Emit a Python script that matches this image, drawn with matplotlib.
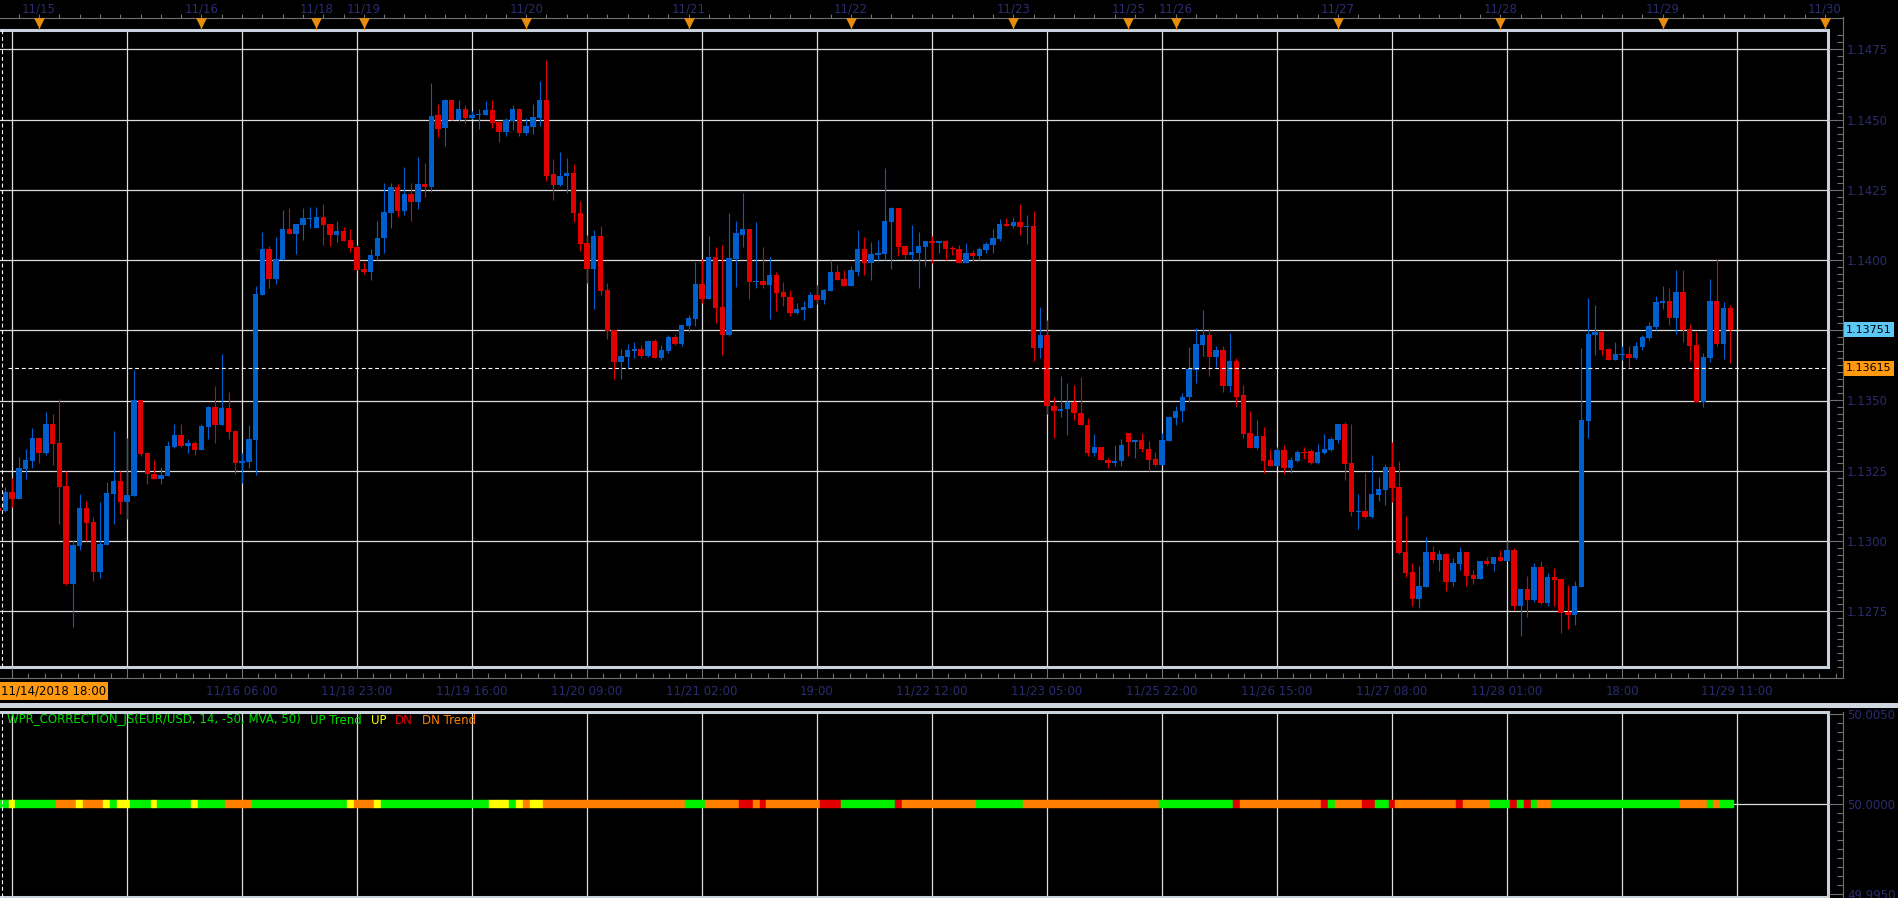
import matplotlib.pyplot as plt
from matplotlib.lines import Line2D
from matplotlib.patches import Rectangle
from matplotlib.transforms import blended_transform_factory
import numpy as np

# EUR/USD hourly bars, 11/14/2018 18:00 .. 11/29 10:00
opens = [
    1.13118, 1.13108, 1.13174, 1.13149, 1.13257, 1.13286, 1.13366, 1.13314, 1.13416, 1.13349,
    1.13195, 1.12845, 1.12983, 1.13117, 1.13067, 1.12891, 1.12987, 1.13168, 1.13213, 1.13139,
    1.13161, 1.13501, 1.13313, 1.13237, 1.13221, 1.13230, 1.13334, 1.13376, 1.13338, 1.13349,
    1.13325, 1.13407, 1.13476, 1.13413, 1.13472, 1.13391, 1.13279, 1.13282, 1.13359, 1.13875,
    1.14038, 1.13933, 1.13999, 1.14109, 1.14093, 1.14125, 1.14146, 1.14114, 1.14153, 1.14128,
    1.14089, 1.14105, 1.14070, 1.14045, 1.13967, 1.13957, 1.14014, 1.14078, 1.14167, 1.14262,
    1.14175, 1.14234, 1.14207, 1.14272, 1.14262, 1.14516, 1.14469, 1.14569, 1.14498, 1.14538,
    1.14505, 1.14515, 1.14517, 1.14534, 1.14491, 1.14456, 1.14494, 1.14538, 1.14452, 1.14473,
    1.14505, 1.14569, 1.14305, 1.14266, 1.14299, 1.14309, 1.14169, 1.14062, 1.13970, 1.14087,
    1.13894, 1.13752, 1.13638, 1.13655, 1.13676, 1.13684, 1.13659, 1.13712, 1.13651, 1.13676,
    1.13727, 1.13701, 1.13766, 1.13791, 1.13915, 1.13863, 1.14012, 1.13834, 1.13734, 1.14005,
    1.14091, 1.14112, 1.13923, 1.13927, 1.13913, 1.13948, 1.13888, 1.13870, 1.13812, 1.13823,
    1.13830, 1.13877, 1.13859, 1.13890, 1.13959, 1.13934, 1.13909, 1.13959, 1.14041, 1.13991,
    1.14019, 1.14023, 1.14137, 1.14186, 1.14050, 1.14019, 1.14026, 1.14048, 1.14068, 1.14060,
    1.14068, 1.14044, 1.14038, 1.13990, 1.14024, 1.14015, 1.14036, 1.14054, 1.14075, 1.14129,
    1.14123, 1.14136, 1.14119, 1.14121, 1.13687, 1.13732, 1.13482, 1.13462, 1.13469, 1.13493,
    1.13457, 1.13414, 1.13312, 1.13336, 1.13289, 1.13276, 1.13283, 1.13386, 1.13351, 1.13361,
    1.13329, 1.13293, 1.13271, 1.13357, 1.13439, 1.13462, 1.13511, 1.13607, 1.13696, 1.13732,
    1.13654, 1.13679, 1.13550, 1.13639, 1.13518, 1.13386, 1.13332, 1.13375, 1.13289, 1.13268,
    1.13325, 1.13261, 1.13286, 1.13318, 1.13320, 1.13278, 1.13314, 1.13324, 1.13359, 1.13416,
    1.13278, 1.13103, 1.13107, 1.13085, 1.13164, 1.13181, 1.13263, 1.13192, 1.12961, 1.12890,
    1.12794, 1.12836, 1.12961, 1.12932, 1.12954, 1.12854, 1.12918, 1.12961, 1.12879, 1.12865,
    1.12929, 1.12918, 1.12943, 1.12929, 1.12968, 1.12769, 1.12829, 1.12790, 1.12907, 1.12779,
    1.12872, 1.12865, 1.12747, 1.12737, 1.12836, 1.13427, 1.13733, 1.13744, 1.13683, 1.13644,
    1.13662, 1.13665, 1.13651, 1.13690, 1.13722, 1.13762, 1.13849, 1.13854, 1.13794, 1.13886,
    1.13754, 1.13698, 1.13495, 1.13651, 1.13854, 1.13701, 1.13829]
highs = [
    1.13121, 1.13191, 1.13224, 1.13300, 1.13326, 1.13401, 1.13370, 1.13458, 1.13451, 1.13504,
    1.13250, 1.13003, 1.13167, 1.13142, 1.13084, 1.13138, 1.13209, 1.13391, 1.13250, 1.13366,
    1.13608, 1.13501, 1.13313, 1.13288, 1.13263, 1.13355, 1.13416, 1.13416, 1.13362, 1.13355,
    1.13416, 1.13480, 1.13551, 1.13664, 1.13529, 1.13391, 1.13313, 1.13412, 1.13907, 1.14099,
    1.14049, 1.14084, 1.14180, 1.14184, 1.14128, 1.14184, 1.14188, 1.14188, 1.14199, 1.14128,
    1.14141, 1.14117, 1.14109, 1.14054, 1.13992, 1.14038, 1.14138, 1.14276, 1.14276, 1.14270,
    1.14330, 1.14276, 1.14366, 1.14345, 1.14629, 1.14557, 1.14573, 1.14569, 1.14569, 1.14552,
    1.14530, 1.14538, 1.14565, 1.14569, 1.14491, 1.14505, 1.14552, 1.14542, 1.14505, 1.14555,
    1.14637, 1.14712, 1.14359, 1.14384, 1.14362, 1.14341, 1.14209, 1.14091, 1.14106, 1.14123,
    1.13919, 1.13752, 1.13684, 1.13701, 1.13709, 1.13698, 1.13716, 1.13720, 1.13698, 1.13734,
    1.13737, 1.13770, 1.13806, 1.13995, 1.14005, 1.14087, 1.14045, 1.14055, 1.14169, 1.14141,
    1.14238, 1.14112, 1.14137, 1.14045, 1.14012, 1.13959, 1.13923, 1.13894, 1.13848, 1.13855,
    1.13888, 1.13913, 1.13898, 1.13999, 1.13984, 1.13963, 1.13980, 1.14108, 1.14081, 1.14066,
    1.14071, 1.14329, 1.14189, 1.14186, 1.14054, 1.14125, 1.14100, 1.14068, 1.14086, 1.14068,
    1.14071, 1.14050, 1.14052, 1.14062, 1.14036, 1.14048, 1.14063, 1.14110, 1.14145, 1.14150,
    1.14154, 1.14200, 1.14161, 1.14175, 1.13832, 1.13786, 1.13511, 1.13589, 1.13561, 1.13557,
    1.13582, 1.13438, 1.13379, 1.13336, 1.13294, 1.13343, 1.13364, 1.13386, 1.13361, 1.13386,
    1.13357, 1.13318, 1.13386, 1.13446, 1.13479, 1.13526, 1.13689, 1.13757, 1.13821, 1.13754,
    1.13693, 1.13693, 1.13739, 1.13650, 1.13557, 1.13464, 1.13432, 1.13407, 1.13329, 1.13336,
    1.13340, 1.13300, 1.13325, 1.13336, 1.13327, 1.13345, 1.13381, 1.13370, 1.13416, 1.13423,
    1.13416, 1.13167, 1.13242, 1.13306, 1.13228, 1.13274, 1.13352, 1.13285, 1.13089, 1.12922,
    1.12911, 1.13014, 1.12982, 1.12968, 1.12957, 1.12940, 1.12979, 1.12961, 1.12897, 1.12929,
    1.12943, 1.12943, 1.12968, 1.13000, 1.12975, 1.12829, 1.12875, 1.12922, 1.12929, 1.12886,
    1.12904, 1.12865, 1.12843, 1.12858, 1.13687, 1.13865, 1.13840, 1.13747, 1.13687, 1.13708,
    1.13694, 1.13694, 1.13708, 1.13733, 1.13779, 1.13872, 1.13907, 1.13900, 1.13964, 1.13964,
    1.13772, 1.13744, 1.13669, 1.13932, 1.14004, 1.13851, 1.13840]
lows = [
    1.13103, 1.13103, 1.13122, 1.13149, 1.13221, 1.13259, 1.13279, 1.13307, 1.13270, 1.13062,
    1.12842, 1.12695, 1.12966, 1.13000, 1.12859, 1.12867, 1.12987, 1.13062, 1.13095, 1.13079,
    1.13161, 1.13303, 1.13204, 1.13221, 1.13204, 1.13230, 1.13332, 1.13334, 1.13314, 1.13307,
    1.13325, 1.13363, 1.13350, 1.13413, 1.13363, 1.13239, 1.13207, 1.13261, 1.13236, 1.13875,
    1.13900, 1.13914, 1.13999, 1.14093, 1.14022, 1.14071, 1.14114, 1.14114, 1.14054, 1.14049,
    1.14064, 1.14068, 1.14029, 1.13964, 1.13950, 1.13929, 1.13999, 1.14025, 1.14114, 1.14154,
    1.14160, 1.14138, 1.14182, 1.14224, 1.14242, 1.14440, 1.14406, 1.14498, 1.14494, 1.14487,
    1.14502, 1.14466, 1.14517, 1.14469, 1.14420, 1.14441, 1.14462, 1.14441, 1.14445, 1.14448,
    1.14477, 1.14280, 1.14213, 1.14263, 1.14238, 1.14137, 1.14034, 1.13917, 1.13827, 1.13877,
    1.13720, 1.13577, 1.13577, 1.13616, 1.13651, 1.13651, 1.13655, 1.13651, 1.13645, 1.13670,
    1.13698, 1.13695, 1.13745, 1.13766, 1.13848, 1.13863, 1.13777, 1.13663, 1.13730, 1.13905,
    1.14045, 1.13863, 1.13902, 1.13902, 1.13791, 1.13819, 1.13838, 1.13802, 1.13808, 1.13787,
    1.13830, 1.13844, 1.13844, 1.13890, 1.13930, 1.13909, 1.13909, 1.13945, 1.13948, 1.13929,
    1.14000, 1.14000, 1.13969, 1.14015, 1.14004, 1.14000, 1.13901, 1.13980, 1.13988, 1.14026,
    1.14000, 1.14017, 1.13990, 1.13988, 1.13998, 1.14000, 1.14026, 1.14026, 1.14067, 1.14123,
    1.14114, 1.14089, 1.14057, 1.13639, 1.13651, 1.13451, 1.13365, 1.13443, 1.13376, 1.13431,
    1.13412, 1.13301, 1.13301, 1.13288, 1.13258, 1.13268, 1.13266, 1.13304, 1.13294, 1.13315,
    1.13250, 1.13266, 1.13271, 1.13357, 1.13414, 1.13425, 1.13493, 1.13561, 1.13657, 1.13589,
    1.13618, 1.13532, 1.13532, 1.13482, 1.13368, 1.13332, 1.13329, 1.13243, 1.13268, 1.13268,
    1.13237, 1.13243, 1.13282, 1.13293, 1.13274, 1.13274, 1.13310, 1.13320, 1.13349, 1.13217,
    1.13089, 1.13043, 1.13082, 1.13082, 1.13142, 1.13128, 1.13140, 1.12954, 1.12872, 1.12769,
    1.12762, 1.12836, 1.12922, 1.12893, 1.12822, 1.12840, 1.12897, 1.12840, 1.12847, 1.12865,
    1.12915, 1.12893, 1.12929, 1.12929, 1.12754, 1.12662, 1.12730, 1.12783, 1.12776, 1.12769,
    1.12769, 1.12673, 1.12687, 1.12701, 1.12836, 1.13367, 1.13662, 1.13662, 1.13644, 1.13644,
    1.13644, 1.13619, 1.13647, 1.13680, 1.13715, 1.13751, 1.13826, 1.13769, 1.13737, 1.13708,
    1.13641, 1.13495, 1.13477, 1.13637, 1.13694, 1.13648, 1.13633]
closes = [
    1.13108, 1.13174, 1.13149, 1.13259, 1.13288, 1.13366, 1.13314, 1.13416, 1.13345, 1.13193,
    1.12845, 1.12986, 1.13117, 1.13064, 1.12891, 1.12989, 1.13170, 1.13213, 1.13139, 1.13163,
    1.13501, 1.13311, 1.13237, 1.13221, 1.13233, 1.13337, 1.13376, 1.13338, 1.13349, 1.13325,
    1.13409, 1.13476, 1.13413, 1.13472, 1.13388, 1.13279, 1.13284, 1.13362, 1.13878, 1.14038,
    1.13933, 1.14003, 1.14109, 1.14093, 1.14128, 1.14149, 1.14149, 1.14153, 1.14125, 1.14089,
    1.14105, 1.14068, 1.14043, 1.13964, 1.13957, 1.14017, 1.14080, 1.14170, 1.14262, 1.14175,
    1.14234, 1.14207, 1.14272, 1.14262, 1.14514, 1.14468, 1.14569, 1.14498, 1.14538, 1.14505,
    1.14517, 1.14519, 1.14534, 1.14487, 1.14456, 1.14498, 1.14538, 1.14452, 1.14477, 1.14509,
    1.14569, 1.14301, 1.14266, 1.14301, 1.14309, 1.14166, 1.14059, 1.13970, 1.14087, 1.13890,
    1.13748, 1.13638, 1.13659, 1.13680, 1.13684, 1.13659, 1.13712, 1.13651, 1.13680, 1.13727,
    1.13701, 1.13770, 1.13794, 1.13915, 1.13863, 1.14012, 1.13830, 1.13734, 1.14009, 1.14095,
    1.14112, 1.13923, 1.13927, 1.13913, 1.13948, 1.13884, 1.13867, 1.13812, 1.13827, 1.13834,
    1.13877, 1.13859, 1.13894, 1.13959, 1.13930, 1.13909, 1.13963, 1.14041, 1.13991, 1.14022,
    1.14024, 1.14139, 1.14186, 1.14046, 1.14019, 1.14029, 1.14050, 1.14068, 1.14060, 1.14068,
    1.14040, 1.14038, 1.13990, 1.14024, 1.14015, 1.14039, 1.14057, 1.14079, 1.14129, 1.14123,
    1.14136, 1.14118, 1.14121, 1.13687, 1.13732, 1.13480, 1.13462, 1.13471, 1.13493, 1.13455,
    1.13412, 1.13312, 1.13336, 1.13288, 1.13276, 1.13286, 1.13343, 1.13351, 1.13361, 1.13326,
    1.13289, 1.13271, 1.13361, 1.13443, 1.13464, 1.13514, 1.13611, 1.13700, 1.13732, 1.13654,
    1.13679, 1.13550, 1.13639, 1.13514, 1.13382, 1.13332, 1.13375, 1.13286, 1.13268, 1.13325,
    1.13261, 1.13289, 1.13318, 1.13314, 1.13278, 1.13317, 1.13327, 1.13363, 1.13416, 1.13274,
    1.13103, 1.13107, 1.13085, 1.13167, 1.13185, 1.13263, 1.13189, 1.12957, 1.12886, 1.12794,
    1.12840, 1.12961, 1.12932, 1.12954, 1.12854, 1.12922, 1.12961, 1.12875, 1.12865, 1.12929,
    1.12918, 1.12943, 1.12929, 1.12968, 1.12769, 1.12829, 1.12790, 1.12907, 1.12779, 1.12872,
    1.12861, 1.12744, 1.12737, 1.12840, 1.13431, 1.13737, 1.13744, 1.13680, 1.13644, 1.13665,
    1.13665, 1.13651, 1.13694, 1.13726, 1.13765, 1.13851, 1.13854, 1.13794, 1.13886, 1.13751,
    1.13694, 1.13495, 1.13655, 1.13854, 1.13701, 1.13829, 1.13751]

# indicator state per bar as runs: G=UP Trend, Y=UP, R=DN, O=DN Trend
trend_runs = [('G', 2), ('Y', 1), ('G', 6), ('O', 3), ('Y', 1), ('O', 3), ('Y', 1), ('G', 1),
              ('Y', 2), ('G', 3), ('Y', 1), ('G', 5), ('Y', 1), ('G', 4), ('O', 4), ('G', 14),
              ('Y', 1), ('O', 3), ('Y', 1), ('G', 16), ('Y', 3), ('G', 1), ('Y', 1), ('O', 1),
              ('Y', 2), ('O', 21), ('G', 3), ('O', 5), ('R', 2), ('O', 1), ('R', 1), ('O', 8),
              ('R', 3), ('G', 8), ('R', 1), ('O', 11), ('G', 7), ('O', 20), ('G', 11), ('R', 1),
              ('O', 12), ('R', 1), ('G', 1), ('O', 4), ('R', 2), ('G', 2), ('R', 1), ('O', 9),
              ('R', 1), ('O', 4), ('G', 3), ('R', 1), ('G', 1), ('R', 1), ('G', 1), ('O', 2),
              ('G', 19), ('O', 4), ('G', 1), ('O', 1), ('G', 2)]

# day starts (bar index) for the top date strip
day_labels = ['11/15', '11/16', '11/18', '11/19', '11/20', '11/21', '11/22',
              '11/23', '11/25', '11/26', '11/27', '11/28', '11/29', '11/30']
day_bars = [6, 30, 47, 54, 78, 102, 126, 150, 167, 174, 198, 222, 246, 270]

# vertical grid every 17 bars
grid_bars = list(range(2, 258, 17))
grid_labels = ['', '', '11/16 06:00', '11/18 23:00', '11/19 16:00', '11/20 09:00',
               '11/21 02:00', '19:00', '11/22 12:00', '11/23 05:00', '11/25 22:00',
               '11/26 15:00', '11/27 08:00', '11/28 01:00', '18:00', '11/29 11:00']

price_ticks = [1.1275, 1.1300, 1.1325, 1.1350, 1.1375, 1.1400, 1.1425, 1.1450, 1.1475]
last_price = 1.13751
cursor_price = 1.13615
cursor_bar = 0.55
cursor_label = '11/14/2018 18:00'
ind_ticks = [49.995, 50.0, 50.005]

# ---------------------------------------------------------------
W, H = 1898, 898
PPB = 115 / 17     # pixels per bar
X0 = -1.5          # pixel x of bar 0
P_TOP, P_BOT = 1.148194, 1.125510
I_TOP, I_BOT = 50.00511, 49.99483
FS = 8.5

NAVY = '#2b2b72'
GRID = '#dcdcdc'
FRAME = '#c9d1dd'
AXIS = '#707070'
UPC = '#005fcc'
DNC = '#e00000'
TRI = '#e88d0b'
STATE_COL = {'G': '#00f000', 'Y': '#ffff00', 'R': '#e00000', 'O': '#ff8000'}

plt.rcParams['font.family'] = ['DejaVu Sans']
fig = plt.figure(figsize=(W / 100, H / 100), dpi=100, facecolor='black')


def box(x0, y0, x1, y1):
    return fig.add_axes([x0 / W, 1 - y1 / H, (x1 - x0) / W, (y1 - y0) / H])


def xlim_px(a, b):
    return ((a - X0) / PPB, (b - X0) / PPB)


def frame(a, sides, lw=2.2):
    for s in a.spines:
        a.spines[s].set_visible(s in sides)
        a.spines[s].set_color(FRAME)
        a.spines[s].set_linewidth(lw)


o = np.array(opens)
h = np.array(highs)
l = np.array(lows)
c = np.array(closes)
idx = np.arange(len(o))
cols = np.where(c >= o, UPC, DNC)

# ---------------- main price panel ----------------
ax = box(0, 30, 1828, 667)
ax.set_facecolor('black')
ax.set_xlim(*xlim_px(0, 1828))
ax.set_ylim(P_BOT, P_TOP)
ax.set_xticks([])
ax.set_yticks([])
frame(ax, ['top', 'right', 'bottom'])

for p in price_ticks:
    ax.axhline(p, color=GRID, lw=0.9, zorder=1)
for g in grid_bars:
    ax.axvline(g, color=GRID, lw=0.9, zorder=1)

ax.vlines(idx, l, h, colors=cols, lw=0.8, zorder=3)
body_lo = np.minimum(o, c)
body_h = np.maximum(np.abs(c - o), 0.00004)
ax.bar(idx, body_h, bottom=body_lo, width=0.8, color=cols, lw=0, zorder=4)

ax.axhline(cursor_price, xmin=8 / 1828, color='white', lw=0.8, ls=(0, (3.5, 2.5)), zorder=5)
ax.axvline(cursor_bar, color='white', lw=0.8, ls=(0, (3.5, 2.5)), zorder=5)

# right price scale (the 1.1375 label sits under the last-price tag)
axr = box(1828, 30, 1843, 667)
axr.set_facecolor('none')
axr.set_ylim(P_BOT, P_TOP)
axr.set_xticks([])
for s in axr.spines:
    axr.spines[s].set_visible(False)
axr.yaxis.tick_right()
axr.set_yticks(price_ticks,
               labels=['' if abs(p - last_price) < 0.0002 else '%.4f' % p for p in price_ticks])
axr.set_yticks(np.arange(1.1255, 1.1482, 0.00025), minor=True)
axr.tick_params(axis='y', which='major', direction='in', length=10, width=0.8,
                color=AXIS, labelcolor=NAVY, labelsize=FS, pad=3)
axr.tick_params(axis='y', which='minor', direction='in', length=4.3, width=0.8, color=AXIS)
tr = blended_transform_factory(axr.transAxes, axr.transData)
axr.text(1 + 3 / 15, last_price, '%.5f' % last_price, transform=tr, ha='left', va='center',
         fontsize=FS - 0.5, color='black', zorder=6,
         bbox=dict(boxstyle='square,pad=0.22', fc='#5cc8f6', ec='none'))
axr.text(1 + 3 / 15, cursor_price, '%.5f' % cursor_price, transform=tr, ha='left',
         va='center', fontsize=FS - 0.5, color='black', zorder=6,
         bbox=dict(boxstyle='square,pad=0.22', fc='#ff9a10', ec='none'))
fig.add_artist(Line2D([1843 / W, 1843 / W], [1 - 17 / H, 1 - 678 / H], color=AXIS, lw=0.8))

# top date strip
axt = box(0, 0, 1843, 30)
axt.set_xlim(*xlim_px(0, 1843))
axt.set_ylim(30, 0)
axt.axis('off')
axt.plot(axt.get_xlim(), [18, 18], color=AXIS, lw=0.8)
axt.vlines(np.arange(0, 271, 3), 14, 18, color=AXIS, lw=0.8)
axt.vlines(day_bars, 22, 30, color=TRI, lw=0.9)
axt.scatter(day_bars, [22.5] * len(day_bars), marker='v', s=60, color=TRI, lw=0, zorder=3)
for b, t in zip(day_bars, day_labels):
    axt.text(b, 9, t, ha='center', va='center', color=NAVY, fontsize=FS)

# bottom time axis
axb = box(0, 667, 1843, 678)
axb.set_facecolor('none')
axb.set_xlim(*xlim_px(0, 1843))
axb.set_yticks([])
for s in axb.spines:
    axb.spines[s].set_visible(s == 'bottom')
axb.spines['bottom'].set_color(AXIS)
axb.spines['bottom'].set_linewidth(0.8)
axb.set_xticks(grid_bars, labels=grid_labels)
axb.set_xticks(np.arange(2, 272, 17 / 7), minor=True)
axb.tick_params(axis='x', which='major', direction='in', length=7.5, width=0.8, color=AXIS,
                labelcolor=NAVY, labelsize=FS, pad=5)
axb.tick_params(axis='x', which='minor', direction='in', length=3.5, width=0.8, color=AXIS)
fig.text(1 / W, 1 - 691 / H, cursor_label, ha='left', va='center', fontsize=FS, color='black',
         bbox=dict(boxstyle='square,pad=0.2', fc='#ff9a10', ec='none'))

# panel separator
fig.add_artist(Rectangle((0, 1 - 708 / H), 1, 5 / H, transform=fig.transFigure,
                         facecolor='#cfd6df', edgecolor='none'))

# ---------------- indicator panel ----------------
ax2 = box(0, 712, 1828, 897)
ax2.set_facecolor('black')
ax2.set_xlim(*xlim_px(0, 1828))
ax2.set_ylim(I_BOT, I_TOP)
ax2.set_xticks([])
ax2.set_yticks([])
frame(ax2, ['top', 'right', 'bottom'])
for g in grid_bars:
    ax2.axvline(g, color=GRID, lw=0.9, zorder=1)
ax2.axhline(50.0, color=GRID, lw=0.9, zorder=1)

states = ''.join(s * n for s, n in trend_runs)
scol = [STATE_COL[s] for s in states]
strip_h = 0.00045
ax2.bar(np.arange(len(states)), strip_h, bottom=50.0 - strip_h / 2, width=1.0,
        color=scol, edgecolor=scol, lw=0.3, zorder=3)
ax2.axvline(cursor_bar, color='white', lw=0.8, ls=(0, (3.5, 2.5)), zorder=5)

ax2r = box(1828, 712, 1843, 897)
ax2r.set_facecolor('none')
ax2r.set_ylim(I_BOT, I_TOP)
ax2r.set_xticks([])
for s in ax2r.spines:
    ax2r.spines[s].set_visible(False)
ax2r.yaxis.tick_right()
ax2r.set_yticks(ind_ticks, labels=['%.4f' % v for v in ind_ticks])
ax2r.set_yticks(np.arange(49.995, 50.0051, 0.0005), minor=True)
ax2r.tick_params(axis='y', which='major', direction='in', length=10, width=0.8,
                 color=AXIS, labelcolor=NAVY, labelsize=FS, pad=3)
ax2r.tick_params(axis='y', which='minor', direction='in', length=4.3, width=0.8, color=AXIS)
fig.add_artist(Line2D([1843 / W, 1843 / W], [1 - 712 / H, 0], color=AXIS, lw=0.8))

# indicator title, pieces chained left to right
pieces = [('WPR_CORRECTION_JS(EUR/USD, 14, -50, MVA, 50)', '#00dd00'),
          ('UP Trend', '#00dd00'), ('UP', '#ffff00'), ('DN', '#e00000'),
          ('DN Trend', '#ff8000')]
prev = ax2.text(7 / 1828, 1 - 8 / 185, pieces[0][0], transform=ax2.transAxes,
                color=pieces[0][1], fontsize=FS, ha='left', va='center', zorder=6)
for txt, col in pieces[1:]:
    prev = ax2.annotate(txt, xy=(1, 0), xycoords=prev, xytext=(9, 0),
                        textcoords='offset pixels', color=col, fontsize=FS,
                        ha='left', va='bottom', annotation_clip=False, zorder=6)

fig.savefig('out.png', dpi=100, facecolor='black')
